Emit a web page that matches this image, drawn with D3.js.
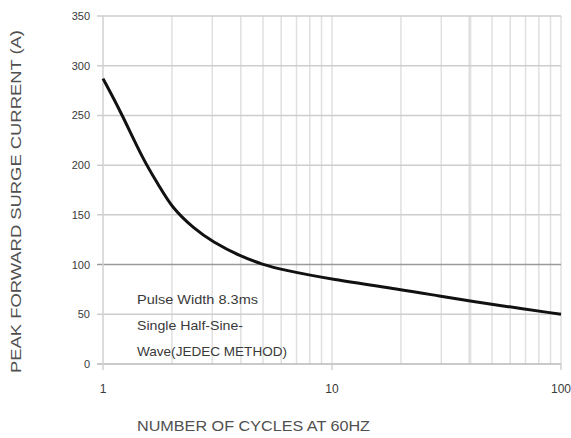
<!DOCTYPE html>
<html>
<head>
<meta charset="utf-8">
<script src="https://cdn.jsdelivr.net/npm/d3@7"></script>
<style>
  body { margin: 0; background: #fff; }
  text { font-family: "Liberation Sans Narrow", "Liberation Sans", Arial, sans-serif; fill: #3a3a3a; }
</style>
</head>
<body>
<div id="chart"></div>
<script>
// surge curve
var cycles  = [1, 1.2, 1.5, 1.75, 2, 2.5, 3, 4, 5, 6, 10, 20, 30, 40, 50, 100];
var current = [287, 253, 205, 180, 157, 136, 123, 108, 100, 95, 85, 75, 68, 63.5, 60, 50];

var yTicks = [0, 50, 100, 150, 200, 250, 300, 350];
var xMajor = [1, 10, 100];
var xMinor = [2, 3, 4, 5, 6, 7, 8, 9, 20, 30, 40, 50, 60, 70, 80, 90];
var noteLines = ["Pulse Width 8.3ms", "Single Half-Sine-", "Wave(JEDEC METHOD)"];
var noteWidths = [121, 106, 150];

var W = 571, H = 438;
var svg = d3.select("#chart").append("svg").attr("width", W).attr("height", H);

var x = d3.scaleLog().domain([1, 100]).range([103, 561]);
var y = d3.scaleLinear().domain([0, 350]).range([364, 16]);

// vertical grid
svg.append("g").selectAll("line").data(xMinor.concat([10, 100])).enter().append("line")
  .attr("x1", function(d) { return x(d); }).attr("x2", function(d) { return x(d); })
  .attr("y1", y(350)).attr("y2", y(0))
  .style("stroke", "#e0e0e0")
  .style("stroke-width", function(d) { return d == 40 ? 3 : 1.5; });

// horizontal grid + left ticks
svg.append("g").selectAll("line").data(yTicks).enter().append("line")
  .attr("x1", x(1) - 6).attr("x2", x(100))
  .attr("y1", function(d) { return y(d); }).attr("y2", function(d) { return y(d); })
  .style("stroke", function(d) { return d == 100 ? "#9a9a9a" : (d == 0 ? "#b8b8b8" : "#cdcdcd"); })
  .style("stroke-width", 1.5);

// y axis line
svg.append("line").attr("x1", x(1)).attr("x2", x(1)).attr("y1", y(350)).attr("y2", y(0) + 6)
  .style("stroke", "#d0d0d0").style("stroke-width", 1.5);

// x major ticks
svg.append("g").selectAll("line").data(xMajor.slice(1)).enter().append("line")
  .attr("x1", function(d) { return x(d); }).attr("x2", function(d) { return x(d); })
  .attr("y1", y(0)).attr("y2", y(0) + 6)
  .style("stroke", "#d0d0d0").style("stroke-width", 1.5);

// tick labels
svg.append("g").selectAll("text").data(yTicks).enter().append("text")
  .attr("x", 90).attr("y", function(d) { return y(d) + 4; })
  .attr("text-anchor", "end").style("font-size", "11px")
  .text(function(d) { return d; });

svg.append("g").selectAll("text").data(xMajor).enter().append("text")
  .attr("x", function(d) { return x(d); }).attr("y", 393)
  .attr("text-anchor", "middle").style("font-size", "12px")
  .text(function(d) { return d; });

// the curve
var line = d3.line()
  .x(function(d, i) { return x(cycles[i]); })
  .y(function(d) { return y(d); })
  .curve(d3.curveBasis);

svg.append("path").datum(current).attr("d", line)
  .style("fill", "none").style("stroke", "#111").style("stroke-width", 3);

// note
svg.append("g").selectAll("text").data(noteLines).enter().append("text")
  .attr("x", 137).attr("y", function(d, i) { return 304 + i * 26; })
  .attr("textLength", function(d, i) { return noteWidths[i]; })
  .attr("lengthAdjust", "spacingAndGlyphs")
  .style("font-size", "13px")
  .text(function(d) { return d; });

// axis titles
svg.append("text").attr("x", 137).attr("y", 431)
  .attr("textLength", 233).attr("lengthAdjust", "spacingAndGlyphs")
  .style("font-size", "15px").style("fill", "#505050")
  .text("NUMBER OF CYCLES AT 60HZ");

svg.append("text")
  .attr("transform", "translate(21," + 373 + ") rotate(-90)")
  .attr("textLength", 343).attr("lengthAdjust", "spacingAndGlyphs")
  .style("font-size", "15px").style("fill", "#505050")
  .text("PEAK FORWARD SURGE CURRENT (A)");
</script>
</body>
</html>
